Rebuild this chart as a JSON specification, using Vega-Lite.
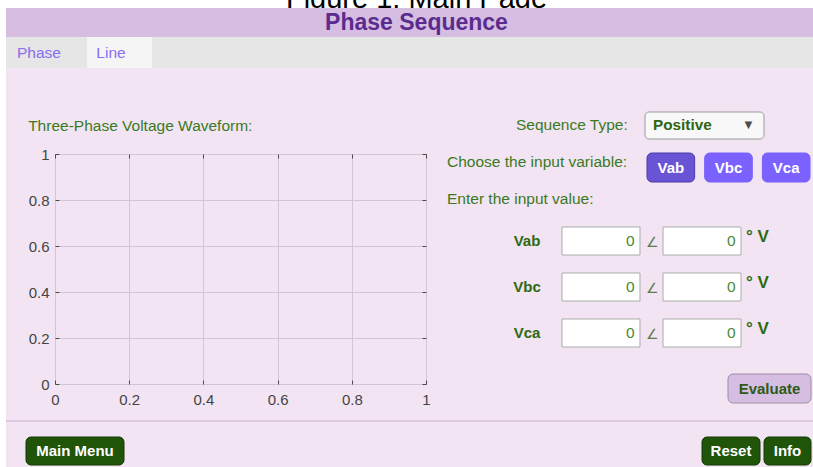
{
  "$schema": "https://vega.github.io/schema/vega-lite/v6.json",
  "background": "#f2e4f3",
  "padding": 0,
  "config": {"view": {"stroke": null}, "font": "Liberation Sans"},
  "spacing": 0,
  "hconcat": [
    {"width": 6, "height": 467, "view": {"fill": "#ffffff"}, "data": {"values": []}, "mark": "point"},
    {
      "spacing": 0,
      "vconcat": [
        {
          "width": 807, "height": 8, "view": {"fill": "#ffffff"},
          "data": {"values": [{"t": "Figure 1: Main Page"}]},
          "mark": {"type": "text", "fontSize": 29, "baseline": "alphabetic", "dy": 4, "dx": 7, "clip": true, "color": "#000000"},
          "encoding": {"text": {"field": "t"}}
        },
        {
          "width": 807, "height": 29, "view": {"fill": "#d6bde2"},
          "data": {"values": [{"t": "Phase Sequence"}]},
          "mark": {"type": "text", "fontSize": 23, "fontWeight": "bold", "baseline": "middle", "dx": 7, "dy": 0, "color": "#5b2c8e"},
          "encoding": {"text": {"field": "t"}}
        },
        {
          "width": 807, "height": 31, "view": {"fill": "#e6e6e6"},
          "layer": [
            {
              "data": {"values": [{"tab": "Line"}]},
              "mark": {"type": "rect", "fill": "#f5f5f5", "strokeWidth": 0},
              "encoding": {"x": {"field": "tab", "type": "nominal", "axis": null, "scale": {"type": "band", "domain": ["Line"], "range": [81, 146], "paddingInner": 0, "paddingOuter": 0}}}
            },
            {
              "data": {"values": [{"tab": "Phase"}, {"tab": "Line"}]},
              "mark": {"type": "text", "fontSize": 15.5, "color": "#8a6df0", "baseline": "middle"},
              "encoding": {
                "x": {"field": "tab", "type": "nominal", "axis": null, "scale": {"type": "point", "domain": ["Phase", "Line"], "range": [33, 105], "padding": 0}},
                "text": {"field": "tab"}
              }
            }
          ],
          "resolve": {"scale": {"x": "independent"}}
        },
        {
          "spacing": 0,
          "hconcat": [
            {"width": 21, "height": 352, "data": {"values": []}, "mark": "point"},
            {
              "spacing": 0,
              "vconcat": [
                {"width": 371, "height": 50, "data": {"values": []}, "mark": "point"},
                {
                  "width": 371, "height": 230,
                  "view": {"stroke": "#4a4a4a", "strokeWidth": 1},
                  "title": {"text": "Three-Phase Voltage Waveform:", "anchor": "start", "frame": "bounds", "offset": 13, "fontSize": 15.5, "fontWeight": "normal", "color": "#3a7a1e"},
                  "data": {"values": []},
                  "layer": [
                    {
                      "mark": "line",
                      "encoding": {
                        "x": {"field": "t", "type": "quantitative", "scale": {"domain": [0, 1], "nice": false, "zero": false},
                          "axis": {"orient": "bottom", "values": [0, 0.2, 0.4, 0.6, 0.8, 1], "format": "~g", "title": null, "domain": false, "grid": true, "gridColor": "#d3c5d8", "tickSize": -4, "tickColor": "#4a4a4a", "labelFontSize": 15, "labelColor": "#444444", "labelPadding": 12, "labelFlush": false}},
                        "y": {"field": "v", "type": "quantitative", "scale": {"domain": [0, 1], "nice": false, "zero": false},
                          "axis": {"orient": "left", "values": [0, 0.2, 0.4, 0.6, 0.8, 1], "format": "~g", "title": null, "domain": false, "grid": true, "gridColor": "#d3c5d8", "tickSize": -4, "tickColor": "#4a4a4a", "labelFontSize": 15, "labelColor": "#444444", "labelPadding": 10, "labelFlush": false}}
                      }
                    },
                    {
                      "mark": "line",
                      "encoding": {
                        "x": {"field": "t", "type": "quantitative", "axis": {"orient": "top", "values": [0, 0.2, 0.4, 0.6, 0.8, 1], "labels": false, "grid": false, "domain": false, "tickSize": -4, "tickColor": "#4a4a4a", "title": null}},
                        "y": {"field": "v", "type": "quantitative", "axis": {"orient": "right", "values": [0, 0.2, 0.4, 0.6, 0.8, 1], "labels": false, "grid": false, "domain": false, "tickSize": -4, "tickColor": "#4a4a4a", "title": null}}
                      }
                    }
                  ]
                }
              ]
            },
            {
              "width": 383, "height": 352,
              "layer": [
                {
                  "data": {"values": [{"w": "Positive"}]},
                  "mark": {"type": "rect", "fill": "#f8f8f8", "stroke": "#9a9a9a", "cornerRadius": 4},
                  "encoding": {
                    "x": {"field": "w", "type": "nominal", "axis": null, "scale": {"type": "band", "domain": ["Positive"], "range": [214, 333], "paddingInner": 0, "paddingOuter": 0}},
                    "y": {"field": "w", "type": "nominal", "axis": null, "scale": {"type": "band", "domain": ["Positive"], "range": [44, 71], "paddingInner": 0, "paddingOuter": 0}}
                  }
                },
                {
                  "data": {"values": [{"t": "Positive", "k": "value", "r": "seq"}, {"t": "▼", "k": "arrow", "r": "seq"}]},
                  "mark": {"type": "text", "align": "left", "baseline": "middle", "fontWeight": "bold"},
                  "encoding": {
                    "x": {"field": "k", "type": "nominal", "axis": null, "scale": {"type": "point", "domain": ["value", "arrow"], "range": [222, 311], "padding": 0}},
                    "y": {"field": "r", "type": "nominal", "axis": null, "scale": {"type": "point", "domain": ["seq"], "range": [57, 57], "padding": 0}},
                    "text": {"field": "t"},
                    "color": {"field": "k", "type": "nominal", "legend": null, "scale": {"domain": ["value", "arrow"], "range": ["#2f6412", "#4d4d4d"]}},
                    "size": {"field": "k", "type": "nominal", "legend": null, "scale": {"domain": ["value", "arrow"], "range": [15.3, 13]}}
                  }
                },
                {
                  "data": {"values": [
                    {"t": "Sequence Type:", "c": "right", "r": "seq"},
                    {"t": "Choose the input variable:", "c": "left", "r": "choose"},
                    {"t": "Enter the input value:", "c": "left", "r": "enter"}
                  ]},
                  "mark": {"type": "text", "align": "left", "baseline": "middle", "fontSize": 15.5, "color": "#3a7a1e"},
                  "encoding": {
                    "x": {"field": "c", "type": "nominal", "axis": null, "scale": {"type": "point", "domain": ["left", "right"], "range": [16, 85], "padding": 0}},
                    "y": {"field": "r", "type": "nominal", "axis": null, "scale": {"type": "point", "domain": ["seq", "choose", "enter"], "range": [57, 131], "padding": 0}},
                    "text": {"field": "t"}
                  }
                },
                {
                  "data": {"values": [{"b": "Vab", "r": "btn"}, {"b": "Vbc", "r": "btn"}, {"b": "Vca", "r": "btn"}]},
                  "encoding": {
                    "x": {"field": "b", "type": "nominal", "axis": null, "scale": {"type": "band", "domain": ["Vab", "Vbc", "Vca"], "range": [216, 379], "paddingInner": 0.174, "paddingOuter": 0}},
                    "y": {"field": "r", "type": "nominal", "axis": null, "scale": {"type": "band", "domain": ["btn"], "range": [85, 114], "paddingInner": 0, "paddingOuter": 0}}
                  },
                  "layer": [
                    {
                      "mark": {"type": "rect", "cornerRadius": 5, "strokeWidth": 1},
                      "encoding": {
                        "fill": {"field": "b", "type": "nominal", "legend": null, "scale": {"domain": ["Vab", "Vbc", "Vca"], "range": ["#6954d6", "#7b61ff", "#7b61ff"]}},
                        "stroke": {"field": "b", "type": "nominal", "legend": null, "scale": {"domain": ["Vab", "Vbc", "Vca"], "range": ["#4b3aa8", "#7b61ff", "#7b61ff"]}}
                      }
                    },
                    {
                      "mark": {"type": "text", "color": "#ffffff", "fontWeight": "bold", "fontSize": 15, "baseline": "middle"},
                      "encoding": {"text": {"field": "b"}}
                    }
                  ]
                },
                {
                  "layer": [
                    {
                      "data": {"values": [
                        {"v": "Vab", "part": "mag", "val": "0"}, {"v": "Vab", "part": "ang", "val": "0"},
                        {"v": "Vbc", "part": "mag", "val": "0"}, {"v": "Vbc", "part": "ang", "val": "0"},
                        {"v": "Vca", "part": "mag", "val": "0"}, {"v": "Vca", "part": "ang", "val": "0"}
                      ]},
                      "encoding": {
                        "x": {"field": "part", "type": "nominal", "axis": null, "scale": {"type": "band", "domain": ["mag", "ang"], "range": [131, 310], "paddingInner": 0.228, "paddingOuter": 0}},
                        "y": {"field": "v", "type": "nominal", "axis": null, "scale": {"type": "band", "domain": ["Vab", "Vbc", "Vca"], "range": [159, 279], "paddingInner": 0.391, "paddingOuter": 0}}
                      },
                      "layer": [
                        {"mark": {"type": "rect", "fill": "#ffffff", "stroke": "#ababab", "strokeWidth": 1}},
                        {
                          "mark": {"type": "text", "align": "right", "baseline": "middle", "fontSize": 15.5, "color": "#4a8a30"},
                          "encoding": {
                            "x": {"field": "part", "type": "nominal", "axis": null, "bandPosition": 0.93, "scale": {"type": "band", "domain": ["mag", "ang"], "range": [131, 310], "paddingInner": 0.228, "paddingOuter": 0}},
                            "text": {"field": "val"}
                          }
                        }
                      ]
                    },
                    {
                      "data": {"values": [{"v": "Vab", "c": "label"}, {"v": "Vbc", "c": "label"}, {"v": "Vca", "c": "label"}]},
                      "mark": {"type": "text", "fontWeight": "bold", "fontSize": 15, "baseline": "middle", "color": "#2d6a10"},
                      "encoding": {
                        "x": {"field": "c", "type": "nominal", "axis": null, "scale": {"type": "point", "domain": ["label"], "range": [96, 96], "padding": 0}},
                        "y": {"field": "v", "type": "nominal", "axis": null, "scale": {"type": "band", "domain": ["Vab", "Vbc", "Vca"], "range": [159, 279], "paddingInner": 0.391, "paddingOuter": 0}},
                        "text": {"field": "v"}
                      }
                    },
                    {
                      "data": {"values": [{"v": "Vab", "s": "∠"}, {"v": "Vbc", "s": "∠"}, {"v": "Vca", "s": "∠"}]},
                      "mark": {"type": "text", "fontSize": 14, "baseline": "middle", "dy": 2, "color": "#5c7a4c"},
                      "encoding": {
                        "x": {"field": "s", "type": "nominal", "axis": null, "scale": {"type": "point", "domain": ["∠"], "range": [221, 221], "padding": 0}},
                        "y": {"field": "v", "type": "nominal", "axis": null, "scale": {"type": "band", "domain": ["Vab", "Vbc", "Vca"], "range": [159, 279], "paddingInner": 0.391, "paddingOuter": 0}},
                        "text": {"field": "s"}
                      }
                    },
                    {
                      "data": {"values": [{"v": "Vab", "s": "° V"}, {"v": "Vbc", "s": "° V"}, {"v": "Vca", "s": "° V"}]},
                      "mark": {"type": "text", "fontSize": 17, "fontWeight": "bold", "align": "left", "baseline": "middle", "dy": -4, "color": "#2d6a10"},
                      "encoding": {
                        "x": {"field": "s", "type": "nominal", "axis": null, "scale": {"type": "point", "domain": ["° V"], "range": [315, 315], "padding": 0}},
                        "y": {"field": "v", "type": "nominal", "axis": null, "scale": {"type": "band", "domain": ["Vab", "Vbc", "Vca"], "range": [159, 279], "paddingInner": 0.391, "paddingOuter": 0}},
                        "text": {"field": "s"}
                      }
                    }
                  ],
                  "resolve": {"scale": {"x": "independent"}}
                },
                {
                  "data": {"values": [{"b": "Evaluate"}]},
                  "encoding": {
                    "x": {"field": "b", "type": "nominal", "axis": null, "scale": {"type": "band", "domain": ["Evaluate"], "range": [297, 380], "paddingInner": 0, "paddingOuter": 0}},
                    "y": {"field": "b", "type": "nominal", "axis": null, "scale": {"type": "band", "domain": ["Evaluate"], "range": [306, 335], "paddingInner": 0, "paddingOuter": 0}}
                  },
                  "layer": [
                    {"mark": {"type": "rect", "fill": "#d6bde2", "stroke": "#9d8fa3", "cornerRadius": 5}},
                    {"mark": {"type": "text", "fontWeight": "bold", "fontSize": 15, "baseline": "middle", "color": "#2d5a16"}, "encoding": {"text": {"field": "b"}}}
                  ]
                }
              ],
              "resolve": {"scale": {"x": "independent", "y": "independent", "color": "independent", "size": "independent", "fill": "independent", "stroke": "independent"}}
            }
          ]
        },
        {"width": 807, "height": 2, "view": {"fill": "#dccbe0"}, "data": {"values": []}, "mark": "point"},
        {
          "width": 807, "height": 45,
          "layer": [
            {
              "data": {"values": [{"b": "Main Menu", "r": "btn"}]},
              "encoding": {
                "x": {"field": "b", "type": "nominal", "axis": null, "scale": {"type": "band", "domain": ["Main Menu"], "range": [20, 118], "paddingInner": 0, "paddingOuter": 0}},
                "y": {"field": "r", "type": "nominal", "axis": null, "scale": {"type": "band", "domain": ["btn"], "range": [15, 43], "paddingInner": 0, "paddingOuter": 0}}
              },
              "layer": [
                {"mark": {"type": "rect", "fill": "#1f5409", "stroke": "#143a05", "cornerRadius": 5}},
                {"mark": {"type": "text", "fontWeight": "bold", "fontSize": 15, "baseline": "middle", "color": "#ffffff"}, "encoding": {"text": {"field": "b"}}}
              ]
            },
            {
              "data": {"values": [{"b": "Reset", "r": "btn"}]},
              "encoding": {
                "x": {"field": "b", "type": "nominal", "axis": null, "scale": {"type": "band", "domain": ["Reset"], "range": [696, 754], "paddingInner": 0, "paddingOuter": 0}},
                "y": {"field": "r", "type": "nominal", "axis": null, "scale": {"type": "band", "domain": ["btn"], "range": [15, 43], "paddingInner": 0, "paddingOuter": 0}}
              },
              "layer": [
                {"mark": {"type": "rect", "fill": "#1f5409", "stroke": "#143a05", "cornerRadius": 5}},
                {"mark": {"type": "text", "fontWeight": "bold", "fontSize": 15, "baseline": "middle", "color": "#ffffff"}, "encoding": {"text": {"field": "b"}}}
              ]
            },
            {
              "data": {"values": [{"b": "Info", "r": "btn"}]},
              "encoding": {
                "x": {"field": "b", "type": "nominal", "axis": null, "scale": {"type": "band", "domain": ["Info"], "range": [758, 805], "paddingInner": 0, "paddingOuter": 0}},
                "y": {"field": "r", "type": "nominal", "axis": null, "scale": {"type": "band", "domain": ["btn"], "range": [15, 43], "paddingInner": 0, "paddingOuter": 0}}
              },
              "layer": [
                {"mark": {"type": "rect", "fill": "#1f5409", "stroke": "#143a05", "cornerRadius": 5}},
                {"mark": {"type": "text", "fontWeight": "bold", "fontSize": 15, "baseline": "middle", "color": "#ffffff"}, "encoding": {"text": {"field": "b"}}}
              ]
            }
          ],
          "resolve": {"scale": {"x": "independent"}}
        }
      ]
    }
  ]
}
